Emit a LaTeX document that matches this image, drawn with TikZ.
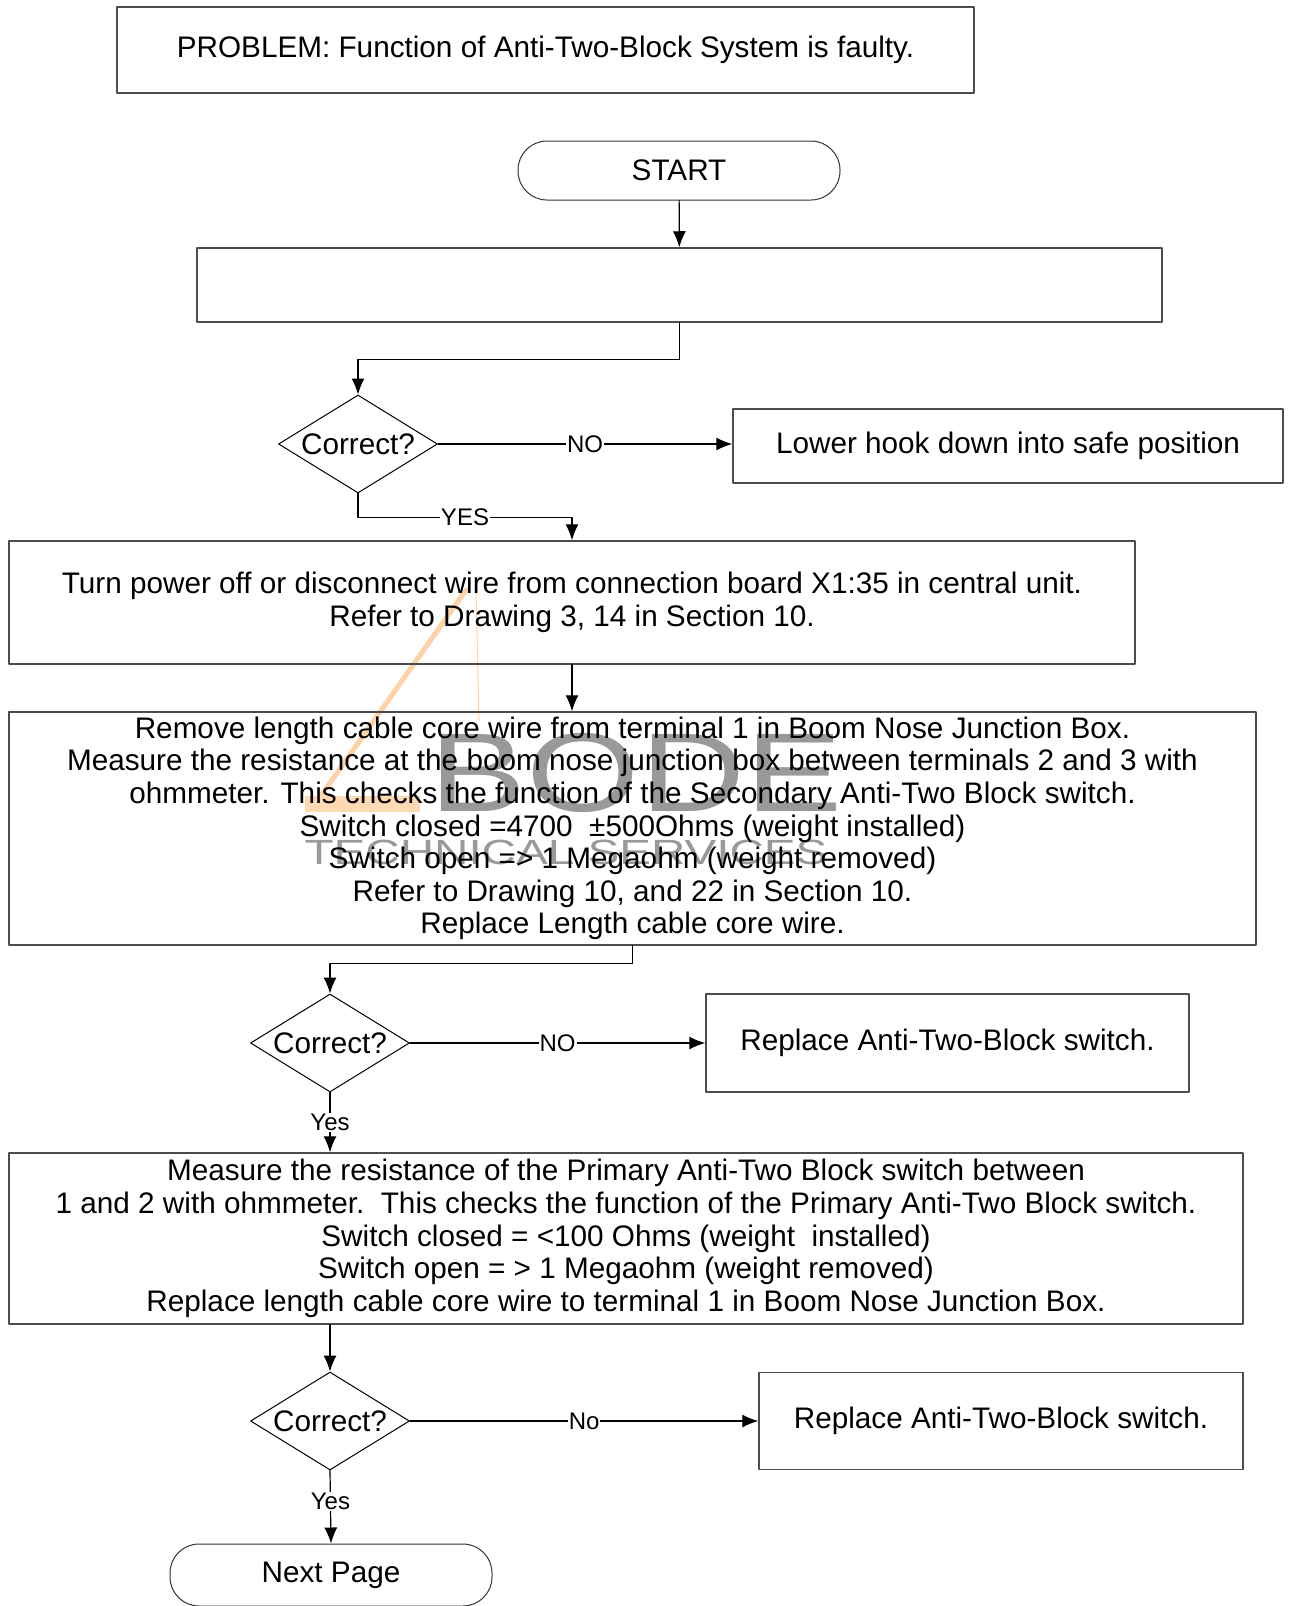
\documentclass[tikz,border=0pt]{standalone}
\usepackage{fontspec}
\setmainfont{Liberation Sans}
\usetikzlibrary{shapes.geometric,arrows.meta}
\tikzstyle{every node}=[font=\fontsize{29.7}{32.6}\selectfont,align=center]
\tikzstyle{every path}=[line cap=round,line join=round]
\tikzstyle{box}=[rectangle,draw=black!70,line width=1.5pt,inner sep=0pt]
\tikzstyle{term}=[rectangle,draw=black!80,line width=1pt,rounded corners=29pt,inner sep=0pt]
\tikzstyle{decision}=[diamond,draw,line width=1pt,aspect=1.6,inner sep=0pt,minimum width=159pt,minimum height=98pt]
\tikzstyle{flow}=[line width=1.2pt,-{Latex[length=16pt,width=13pt]}]
\tikzstyle{answer}=[fill=white,inner sep=1pt,font=\fontsize{24}{28}\selectfont]
\tikzstyle{logotext}=[text=black!40]

\begin{document}
\begin{tikzpicture}[x=1pt,y=-1pt]
    \useasboundingbox (0,0) rectangle (1290,1606);

    % Watermark behind the boxes
    \draw[orange!35,line width=5pt] (313,807) -- (466,590);
    \draw[orange!35,line width=1pt] (476,590) -- (479,720);
    \fill[orange!30] (305,796) rectangle (420,812);
    \node[logotext,font=\fontsize{112}{112}\selectfont,xscale=1.3] (bode) at (636,773) {BODE};
    \node[logotext,font=\fontsize{35}{35}\selectfont,xscale=1.36] (bodesub) at (566,852) {TECHNICAL SERVICES};

    % Problem statement and start
    \node[box,minimum width=857pt,minimum height=86pt] (problem) at (545.5,50)
        {PROBLEM: Function of Anti-Two-Block System is faulty.};
    \node[term,minimum width=322pt,minimum height=59pt] (start) at (679,170.5) {START};
    \node[box,minimum width=965pt,minimum height=74pt] (blank) at (679.5,285) {};

    % First check
    \node[decision] (q1) at (358,444) {Correct?};
    \node[box,minimum width=550pt,minimum height=74pt] (hook) at (1008,446)
        {Lower hook down into safe position};
    \node[box,minimum width=1126pt,minimum height=123pt] (power) at (572,602.5)
        {Turn power off or disconnect wire from connection board X1:35 in central unit.\\
         Refer to Drawing 3, 14 in Section 10.};

    % Secondary switch
    \node[box,minimum width=1247pt,minimum height=233pt] (remove) at (632.5,828.5)
        {Remove length cable core wire from terminal 1 in Boom Nose Junction Box.\\
         Measure the resistance at the boom nose junction box between terminals 2 and 3 with\\
         ohmmeter. This checks the function of the Secondary Anti-Two Block switch.\\
         Switch closed =4700\ \ ±500Ohms (weight installed)\\
         Switch open => 1 Megaohm (weight removed)\\
         Refer to Drawing 10, and 22 in Section 10.\\
         Replace Length cable core wire.};
    \node[decision] (q2) at (330,1043) {Correct?};
    \node[box,minimum width=483pt,minimum height=98pt] (swa) at (947.5,1043)
        {Replace Anti-Two-Block switch.};

    % Primary switch
    \node[box,minimum width=1234pt,minimum height=171pt] (measure) at (626,1238.5)
        {Measure the resistance of the Primary Anti-Two Block switch between\\
         1 and 2 with ohmmeter.\ \ This checks the function of the Primary Anti-Two Block switch.\\
         Switch closed = <100 Ohms (weight\ \ installed)\\
         Switch open = > 1 Megaohm (weight removed)\\
         Replace length cable core wire to terminal 1 in Boom Nose Junction Box.};
    \node[decision] (q3) at (330,1421) {Correct?};
    \node[box,minimum width=484pt,minimum height=97pt] (swb) at (1001,1421)
        {Replace Anti-Two-Block switch.};
    \node[term,minimum width=322pt,minimum height=62pt] (next) at (331,1575) {Next Page};

    % Connectors
    \draw[flow] (start) -- (blank);
    \draw[flow] (blank.south) -- ++(0,37) -| (q1.north);
    \draw[flow] (q1.east) -- node[answer]{NO} (q1.east -| hook.west);
    \draw[flow] (q1.south) -- ++(0,24) -| node[answer,pos=0.25]{YES} (power.north);
    \draw[flow] (power.south) -- (power.south |- remove.north);
    \draw[flow] (remove.south) -- ++(0,18) -| (q2.north);
    \draw[flow] (q2.east) -- node[answer]{NO} (swa.west);
    \draw[flow] (q2.south) -- node[answer]{Yes} (q2.south |- measure.north);
    \draw[flow] (q3.north |- measure.south) -- (q3.north);
    \draw[flow] (q3.east) -- node[answer]{No} (swb.west);
    \draw[flow] (q3.south) -- node[answer,pos=0.42]{Yes} (next.north);
\end{tikzpicture}
\end{document}
